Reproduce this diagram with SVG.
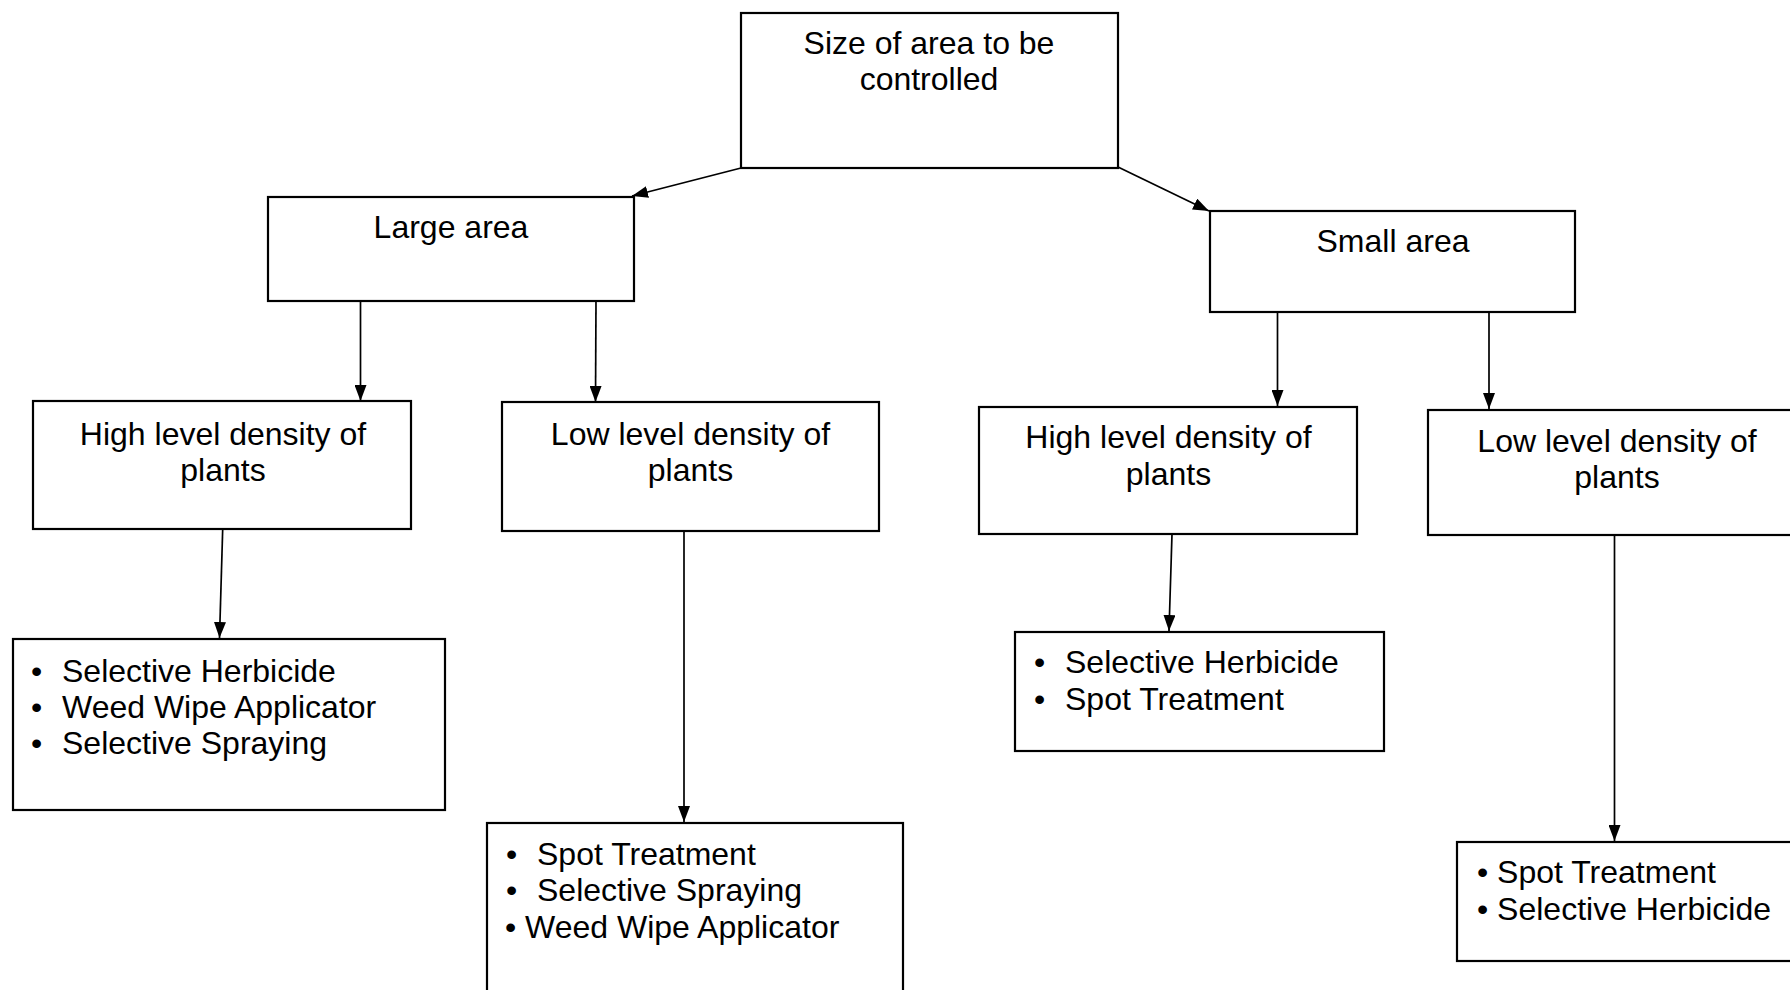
<svg xmlns="http://www.w3.org/2000/svg" width="1790" height="990" viewBox="0 0 1790 990">
  <style>
    .box { fill: #ffffff; stroke: #000000; stroke-width: 2.2; }
    .t { font-family: "Liberation Sans", Arial, sans-serif; font-size: 32px; fill: #000000; }
    .c { text-anchor: middle; }
    .edge { stroke: #000000; stroke-width: 1.7; fill: none; marker-end: url(#arrow); }
  </style>
  <defs>
    <marker id="arrow" markerUnits="userSpaceOnUse" markerWidth="16" markerHeight="12" refX="16" refY="6" orient="auto">
      <path d="M0,0 L16,6 L0,12 z" fill="#000000"/>
    </marker>
  </defs>
  <rect width="1790" height="990" fill="#ffffff"/>

  <!-- connectors -->
  <g id="connectors">
    <line class="edge" x1="741" y1="168" x2="632" y2="196"/>
    <line class="edge" x1="1118" y1="167" x2="1209" y2="211"/>
    <line class="edge" x1="360.5" y1="301" x2="360.5" y2="401"/>
    <line class="edge" x1="596" y1="301" x2="595.5" y2="402"/>
    <line class="edge" x1="1277.5" y1="312" x2="1277.5" y2="406"/>
    <line class="edge" x1="1489" y1="312" x2="1489" y2="409"/>
    <line class="edge" x1="222.7" y1="529" x2="219.5" y2="638"/>
    <line class="edge" x1="684" y1="531" x2="684" y2="822"/>
    <line class="edge" x1="1172" y1="534" x2="1169" y2="631"/>
    <line class="edge" x1="1614.5" y1="535" x2="1614.5" y2="841"/>
  </g>

  <!-- root -->
  <g id="size-of-area">
    <rect class="box" x="741" y="13" width="377" height="155"/>
    <text class="t c" x="929" y="54">Size of area to be</text>
    <text class="t c" x="929" y="90">controlled</text>
  </g>

  <!-- second level -->
  <g id="large-area">
    <rect class="box" x="268" y="197" width="366" height="104"/>
    <text class="t c" x="451" y="238">Large area</text>
  </g>
  <g id="small-area">
    <rect class="box" x="1210" y="211" width="365" height="101"/>
    <text class="t c" x="1393" y="252">Small area</text>
  </g>

  <!-- density level -->
  <g id="large-high-density">
    <rect class="box" x="33" y="401" width="378" height="128"/>
    <text class="t c" x="223" y="445">High level density of</text>
    <text class="t c" x="223" y="481">plants</text>
  </g>
  <g id="large-low-density">
    <rect class="box" x="502" y="402" width="377" height="129"/>
    <text class="t c" x="690.5" y="445">Low level density of</text>
    <text class="t c" x="690.5" y="481">plants</text>
  </g>
  <g id="small-high-density">
    <rect class="box" x="979" y="407" width="378" height="127"/>
    <text class="t c" x="1168.5" y="448">High level density of</text>
    <text class="t c" x="1168.5" y="485">plants</text>
  </g>
  <g id="small-low-density">
    <rect class="box" x="1428" y="410" width="380" height="125"/>
    <text class="t c" x="1617" y="452">Low level density of</text>
    <text class="t c" x="1617" y="488">plants</text>
  </g>

  <!-- control methods -->
  <g id="methods-large-high">
    <rect class="box" x="13" y="639" width="432" height="171"/>
    <text class="t" x="31" y="682">•</text><text class="t" x="62" y="682">Selective Herbicide</text>
    <text class="t" x="31" y="718">•</text><text class="t" x="62" y="718">Weed Wipe Applicator</text>
    <text class="t" x="31" y="754">•</text><text class="t" x="62" y="754">Selective Spraying</text>
  </g>
  <g id="methods-large-low">
    <rect class="box" x="487" y="823" width="416" height="190"/>
    <text class="t" x="506" y="865">•</text><text class="t" x="537" y="865">Spot Treatment</text>
    <text class="t" x="506" y="901">•</text><text class="t" x="537" y="901">Selective Spraying</text>
    <text class="t" x="505" y="938">• Weed Wipe Applicator</text>
  </g>
  <g id="methods-small-high">
    <rect class="box" x="1015" y="632" width="369" height="119"/>
    <text class="t" x="1034" y="673">•</text><text class="t" x="1065" y="673">Selective Herbicide</text>
    <text class="t" x="1034" y="710">•</text><text class="t" x="1065" y="710">Spot Treatment</text>
  </g>
  <g id="methods-small-low">
    <rect class="box" x="1457" y="842" width="350" height="119"/>
    <text class="t" x="1477" y="883">• Spot Treatment</text>
    <text class="t" x="1477" y="920">• Selective Herbicide</text>
  </g>
</svg>
